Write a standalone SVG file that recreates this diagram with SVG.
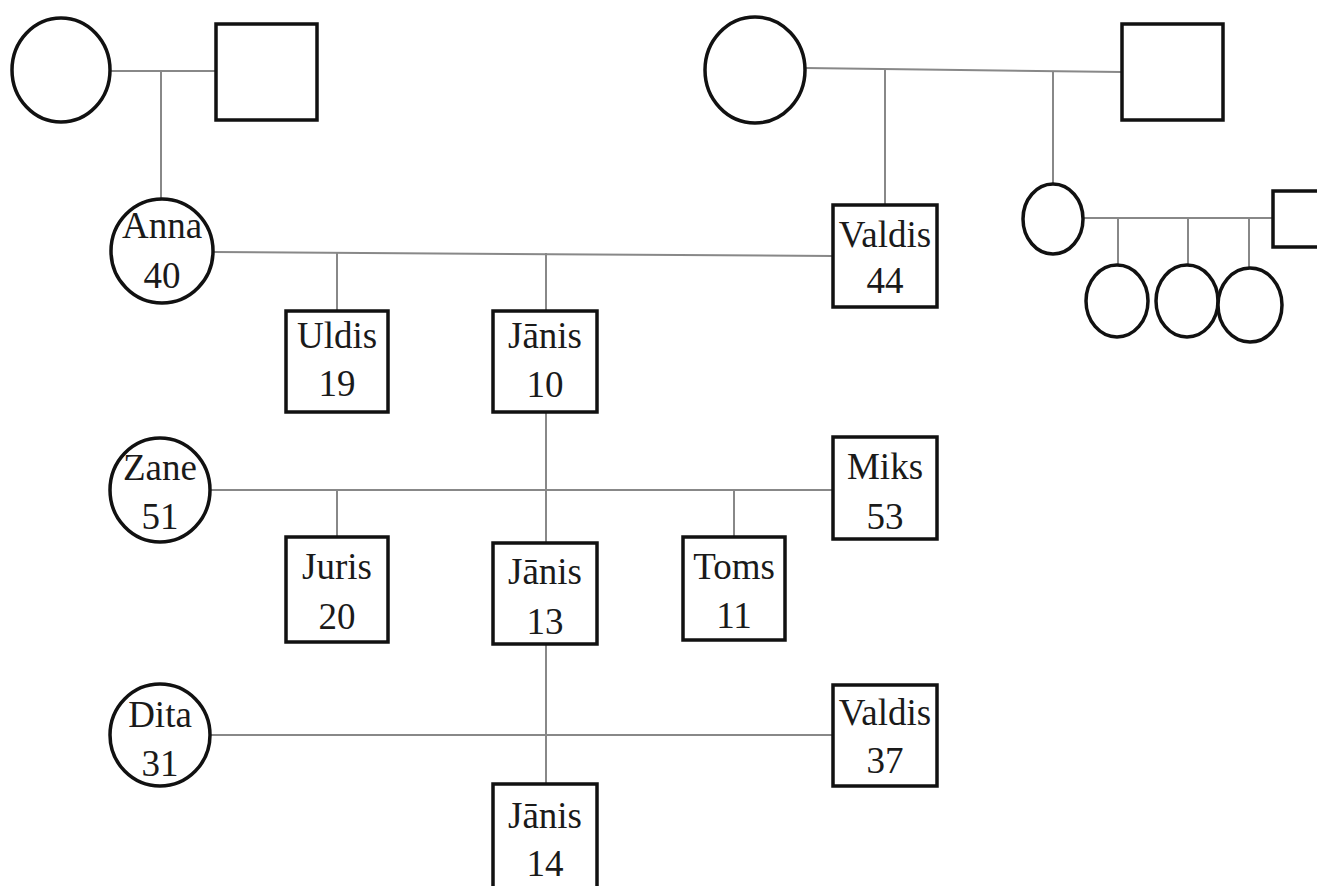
<svg xmlns="http://www.w3.org/2000/svg" width="1317" height="886" viewBox="0 0 1317 886">
<style>
.n{fill:#fff;stroke:#111;stroke-width:3.5}
.c{fill:none;stroke:#888;stroke-width:2}
.t{font-family:"Liberation Serif","Times New Roman",serif;font-size:37px;fill:#1a1a1a;text-anchor:middle}
</style>
<rect width="1317" height="886" fill="#fff"/>
<g id="connectors">
<line class="c" x1="110" y1="71" x2="216" y2="71"/>
<line class="c" x1="161" y1="71" x2="161" y2="200"/>
<line class="c" x1="805" y1="68" x2="1122" y2="72"/>
<line class="c" x1="885" y1="69" x2="885" y2="205"/>
<line class="c" x1="1053" y1="71" x2="1053" y2="184"/>
<line class="c" x1="1083" y1="218" x2="1273" y2="218"/>
<line class="c" x1="1118" y1="218" x2="1118" y2="265"/>
<line class="c" x1="1188" y1="218" x2="1188" y2="265"/>
<line class="c" x1="1249" y1="218" x2="1249" y2="268"/>
<line class="c" x1="213" y1="252" x2="833" y2="256"/>
<line class="c" x1="337" y1="252" x2="337" y2="311"/>
<line class="c" x1="546" y1="253" x2="546" y2="311"/>
<line class="c" x1="546" y1="412" x2="546" y2="543"/>
<line class="c" x1="210" y1="490" x2="833" y2="490"/>
<line class="c" x1="337" y1="490" x2="337" y2="537"/>
<line class="c" x1="734" y1="490" x2="734" y2="537"/>
<line class="c" x1="546" y1="644" x2="546" y2="784"/>
<line class="c" x1="210" y1="735" x2="833" y2="735"/>
</g>
<g id="gm1"><ellipse class="n" cx="61" cy="70" rx="49" ry="52"/></g>
<g id="gf1"><rect class="n" x="216" y="24" width="101" height="96"/></g>
<g id="gm2"><ellipse class="n" cx="755" cy="70" rx="50" ry="53"/></g>
<g id="gf2"><rect class="n" x="1122" y="24" width="101" height="96"/></g>
<g id="aunt"><ellipse class="n" cx="1053" cy="219" rx="30" ry="35"/></g>
<g id="uncle"><rect class="n" x="1273" y="191" width="60" height="56"/></g>
<g id="cousin1"><ellipse class="n" cx="1117" cy="301" rx="31" ry="36"/></g>
<g id="cousin2"><ellipse class="n" cx="1187" cy="301" rx="31" ry="36"/></g>
<g id="cousin3"><ellipse class="n" cx="1250" cy="305" rx="32" ry="37"/></g>
<g id="anna"><ellipse class="n" cx="162" cy="251" rx="51" ry="52"/><text class="t" x="162" y="238">Anna</text><text class="t" x="162" y="288">40</text></g>
<g id="valdis44"><rect class="n" x="833" y="205" width="104" height="102"/><text class="t" x="885" y="247">Valdis</text><text class="t" x="885" y="293">44</text></g>
<g id="uldis"><rect class="n" x="286" y="311" width="102" height="101"/><text class="t" x="337" y="348">Uldis</text><text class="t" x="337" y="396">19</text></g>
<g id="janis10"><rect class="n" x="493" y="311" width="104" height="101"/><text class="t" x="545" y="348">Jānis</text><text class="t" x="545" y="397">10</text></g>
<g id="zane"><ellipse class="n" cx="160" cy="490" rx="50" ry="52"/><text class="t" x="160" y="480">Zane</text><text class="t" x="160" y="529">51</text></g>
<g id="miks"><rect class="n" x="833" y="437" width="104" height="102"/><text class="t" x="885" y="479">Miks</text><text class="t" x="885" y="529">53</text></g>
<g id="juris"><rect class="n" x="286" y="537" width="102" height="105"/><text class="t" x="337" y="579">Juris</text><text class="t" x="337" y="629">20</text></g>
<g id="janis13"><rect class="n" x="493" y="543" width="104" height="101"/><text class="t" x="545" y="584">Jānis</text><text class="t" x="545" y="634">13</text></g>
<g id="toms"><rect class="n" x="683" y="537" width="102" height="103"/><text class="t" x="734" y="579">Toms</text><text class="t" x="734" y="628">11</text></g>
<g id="dita"><ellipse class="n" cx="160" cy="735" rx="50" ry="51"/><text class="t" x="160" y="727">Dita</text><text class="t" x="160" y="776">31</text></g>
<g id="valdis37"><rect class="n" x="833" y="685" width="104" height="101"/><text class="t" x="885" y="725">Valdis</text><text class="t" x="885" y="773">37</text></g>
<g id="janis14"><rect class="n" x="493" y="784" width="104" height="104"/><text class="t" x="545" y="828">Jānis</text><text class="t" x="545" y="876">14</text></g>
</svg>
